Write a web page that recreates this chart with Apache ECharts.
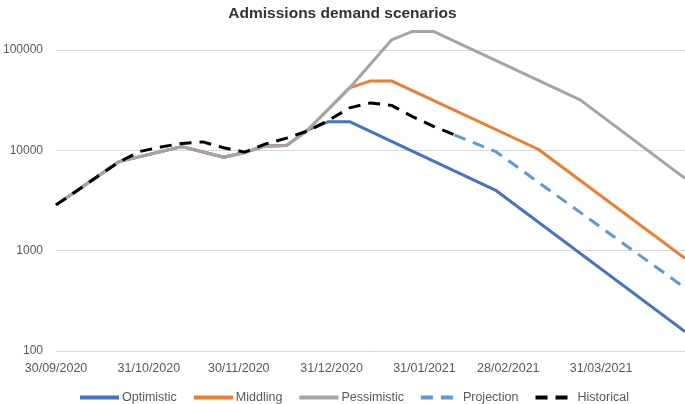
<!DOCTYPE html>
<html><head><meta charset="utf-8">
<script src="https://cdn.jsdelivr.net/npm/echarts@6/dist/echarts.min.js"></script>
<style>html,body{margin:0;padding:0;background:#fff}#c{width:685px;height:404px}</style>
</head><body><div id="c"></div>
<script>
// Shared (pre-divergence) path of all three scenarios
const scenarioDates = ['2020-09-30','2020-10-21','2020-11-11','2020-11-25','2020-12-02','2020-12-09','2020-12-16','2020-12-23'];
const scenarioShared = [2860, 7710, 10890, 8530, 9530, 11070, 11200, 15960];

const optimisticDates = ['2020-12-30','2021-01-06','2021-02-24','2021-04-28'];
const optimisticValues = [19300, 19300, 3960, 156];

const middlingDates = ['2021-01-06','2021-01-13','2021-01-20','2021-03-10','2021-04-28'];
const middlingValues = [41900, 49200, 49200, 10250, 840];

const pessimisticDates = ['2021-01-06','2021-01-13','2021-01-20','2021-01-27','2021-02-03','2021-03-24','2021-04-28'];
const pessimisticValues = [41900, 72600, 126000, 153000, 153000, 31800, 5250];

const projectionDates = ['2021-02-10','2021-02-24','2021-04-28'];
const projectionValues = [14260, 9640, 425];

const historicalDates = ['2020-09-30','2020-10-07','2020-10-14','2020-10-21','2020-10-28','2020-11-04','2020-11-11','2020-11-18','2020-11-25','2020-12-02','2020-12-09','2020-12-16','2020-12-23','2020-12-30','2021-01-06','2021-01-13','2021-01-20','2021-01-27','2021-02-03','2021-02-10'];
const historicalValues = [2860, 3960, 5520, 7660, 9750, 10800, 11720, 12140, 10600, 9600, 11600, 13250, 15600, 19860, 26500, 29700, 28060, 21700, 17350, 14260];

const tickDates = ['2020-09-30','2020-10-31','2020-11-30','2020-12-31','2021-01-31','2021-02-28','2021-03-31'];
const tickLabels = ['30/09/2020','31/10/2020','30/11/2020','31/12/2020','31/01/2021','28/02/2021','31/03/2021'];
const xMin = '2020-09-30', xMax = '2021-04-28';
const yTicks = [100, 1000, 10000, 100000];

// day offset from the first date (axis is a linear day scale)
function day(s){ const p = s.split('-').map(Number); const q = xMin.split('-').map(Number);
  return Math.round((Date.UTC(p[0], p[1]-1, p[2]) - Date.UTC(q[0], q[1]-1, q[2])) / 86400000); }
function zip(d, v){ return d.map((x, i) => [day(x), v[i]]); }
const tickDays = tickDates.map(day);
function fmt(v){ const i = tickDays.indexOf(Math.round(v)); return i >= 0 ? tickLabels[i] : ''; }

const FONT = "'Liberation Sans', Arial, sans-serif";
function mk(name, data, color, dash){
  return { name, type:'line', data, symbol:'none', showSymbol:false, clip:false, smooth:false,
    lineStyle:{ width:3, color, type: dash ? [12, 8] : 'solid', cap:'butt', join:'round' },
    itemStyle:{ color }, emphasis:{ disabled:true } };
}

const chart = echarts.init(document.getElementById('c'), null, { renderer:'canvas' });
chart.setOption({
  animation:false,
  backgroundColor:'#fff',
  title:{ text:'Admissions demand scenarios', left:'center', top:1,
    textStyle:{ fontSize:15.5, fontWeight:'bold', color:'#333333', fontFamily:FONT } },
  grid:{ left:52, right:0, top:50, bottom:53 },
  legend:{ top:386, left:73, itemWidth:39, itemHeight:14, itemGap:15,
    itemStyle:{ opacity:0 },
    lineStyle:{ width:4 },
    textStyle:{ fontSize:12.5, color:'#595959', fontFamily:FONT, padding:[0,0,0,-2] },
    data:['Optimistic','Middling','Pessimistic','Projection','Historical'] },
  xAxis:{ type:'value', min:0, max:day(xMax),
    splitLine:{ show:false }, axisTick:{ show:false }, axisLine:{ show:false },
    axisLabel:{ customValues: tickDays, formatter: fmt, color:'#595959', fontSize:12.5, margin:11, fontFamily:FONT, hideOverlap:false } },
  yAxis:{ type:'log', logBase:10, min:yTicks[0], max:yTicks[yTicks.length-1],
    axisLine:{ show:false }, axisTick:{ show:false },
    splitLine:{ lineStyle:{ color:'#D9D9D9', width:1 } },
    axisLabel:{ color:'#595959', fontSize:12, margin:13, fontFamily:FONT, formatter: v => String(Math.round(v)) } },
  series:[
    mk('Optimistic', zip(scenarioDates.concat(optimisticDates), scenarioShared.concat(optimisticValues)), '#4472C4', false),
    mk('Middling', zip(scenarioDates.concat(middlingDates), scenarioShared.concat(middlingValues)), '#ED7D31', false),
    mk('Pessimistic', zip(scenarioDates.concat(pessimisticDates), scenarioShared.concat(pessimisticValues)), '#A5A5A5', false),
    mk('Projection', zip(projectionDates, projectionValues), '#5B9BD5', true),
    mk('Historical', zip(historicalDates, historicalValues), '#000000', true)
  ]
});
</script></body></html>
